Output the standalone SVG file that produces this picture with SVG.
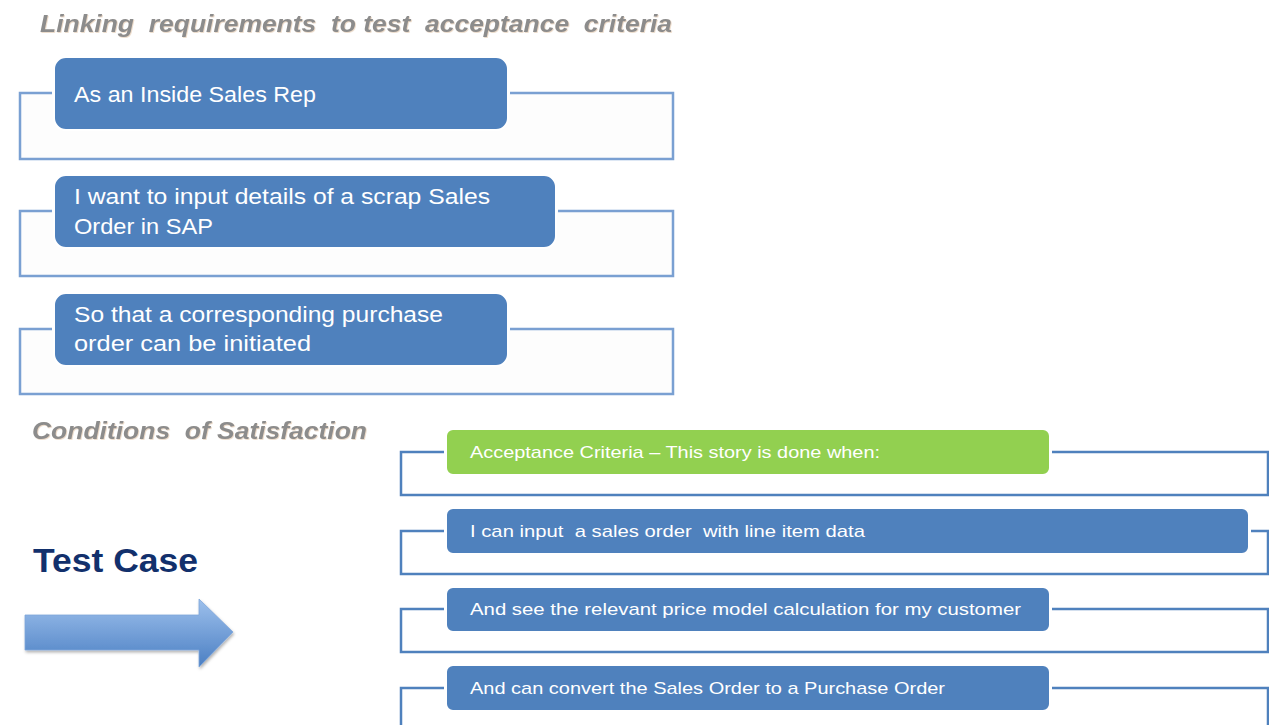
<svg xmlns="http://www.w3.org/2000/svg" width="1269" height="725" viewBox="0 0 1269 725">
<defs>
<linearGradient id="arrowGrad" x1="0" y1="0" x2="0" y2="1">
<stop offset="0" stop-color="#9dc0ec"/>
<stop offset="1" stop-color="#4b7fc3"/>
</linearGradient>
<filter id="shadow" x="-10%" y="-20%" width="130%" height="150%">
<feDropShadow dx="1" dy="2" stdDeviation="1.5" flood-color="#000" flood-opacity="0.3"/>
</filter>
<filter id="tshadow" x="-5%" y="-20%" width="110%" height="150%">
<feDropShadow dx="0.8" dy="0.8" stdDeviation="0.5" flood-color="#d8b896" flood-opacity="0.6"/>
</filter>
<style>
text{white-space:pre}
.title{font-family:"Liberation Sans",Arial,sans-serif;font-weight:bold;font-style:italic;font-size:24px;fill:#8c8c8c}
.frameTop{fill:none;stroke:#7aa0d2;stroke-width:2.5}
.frameBot{fill:none;stroke:#4f81bd;stroke-width:2.5}
.pill{fill:#4f81bd;stroke:#ffffff;stroke-width:2}
.pillGreen{fill:#92d050;stroke:#ffffff;stroke-width:2}
.big{font-family:"Liberation Sans",Arial,sans-serif;font-size:22px;fill:#ffffff}
.small{font-family:"Liberation Sans",Arial,sans-serif;font-size:17px;fill:#ffffff}
.tc{font-family:"Liberation Sans",Arial,sans-serif;font-weight:bold;font-size:34px;fill:#12306c}
</style>
</defs>
<rect width="1269" height="725" fill="#ffffff"/>

<g id="title">
<text class="title" x="40" y="32" textLength="632" lengthAdjust="spacingAndGlyphs" filter="url(#tshadow)">Linking  requirements  to test  acceptance  criteria</text>
</g>

<g id="story1">
<rect x="20" y="93" width="653" height="66" fill="#fdfdfd"/>
<path class="frameTop" d="M52,93 H20 V159 H673 V93 H510"/>
<rect class="pill" x="54" y="57" width="454" height="73" rx="12"/>
<text class="big" x="74" y="102" textLength="242" lengthAdjust="spacingAndGlyphs">As an Inside Sales Rep</text>
</g>

<g id="story2">
<rect x="20" y="211" width="653" height="65" fill="#fdfdfd"/>
<path class="frameTop" d="M52,211 H20 V276 H673 V211 H558"/>
<rect class="pill" x="54" y="175" width="502" height="73" rx="12"/>
<text class="big" x="74" y="204" textLength="416" lengthAdjust="spacingAndGlyphs">I want to input details of a scrap Sales</text>
<text class="big" x="74" y="234" textLength="139" lengthAdjust="spacingAndGlyphs">Order in SAP</text>
</g>

<g id="story3">
<rect x="20" y="329" width="653" height="65" fill="#fdfdfd"/>
<path class="frameTop" d="M52,329 H20 V394 H673 V329 H510"/>
<rect class="pill" x="54" y="293" width="454" height="73" rx="12"/>
<text class="big" x="74" y="322" textLength="369" lengthAdjust="spacingAndGlyphs">So that a corresponding purchase</text>
<text class="big" x="74" y="351" textLength="237" lengthAdjust="spacingAndGlyphs">order can be initiated</text>
</g>

<g id="conditions">
<text class="title" x="32" y="439" textLength="335" lengthAdjust="spacingAndGlyphs" filter="url(#tshadow)">Conditions  of Satisfaction</text>
</g>

<g id="testcase">
<text class="tc" x="33" y="572" textLength="165" lengthAdjust="spacingAndGlyphs">Test Case</text>
</g>

<g id="arrow">
<polygon points="25,615 199,615 199,599 233,632 199,667 199,650 25,650" fill="url(#arrowGrad)" stroke="#7ea6da" stroke-width="0.8" filter="url(#shadow)"/>
</g>

<g id="criteriaHeader">
<path class="frameBot" d="M444,452 H401 V495 H1268 V452 H1052"/>
<rect class="pillGreen" x="446" y="429" width="604" height="46" rx="7"/>
<text class="small" x="470" y="458" textLength="410" lengthAdjust="spacingAndGlyphs">Acceptance Criteria – This story is done when:</text>
</g>

<g id="criteria1">
<path class="frameBot" d="M444,531 H401 V574 H1268 V531 H1251"/>
<rect class="pill" x="446" y="508" width="803" height="46" rx="7"/>
<text class="small" x="470" y="537" textLength="395" lengthAdjust="spacingAndGlyphs">I can input  a sales order  with line item data</text>
</g>

<g id="criteria2">
<path class="frameBot" d="M444,609 H401 V652 H1268 V609 H1052"/>
<rect class="pill" x="446" y="587" width="604" height="45" rx="7"/>
<text class="small" x="470" y="615" textLength="551" lengthAdjust="spacingAndGlyphs">And see the relevant price model calculation for my customer</text>
</g>

<g id="criteria3">
<path class="frameBot" d="M444,688 H401 V730 M1268,730 V688 H1052"/>
<rect class="pill" x="446" y="665" width="604" height="46" rx="7"/>
<text class="small" x="470" y="694" textLength="475" lengthAdjust="spacingAndGlyphs">And can convert the Sales Order to a Purchase Order</text>
</g>

<g id="connectors"/>
</svg>
